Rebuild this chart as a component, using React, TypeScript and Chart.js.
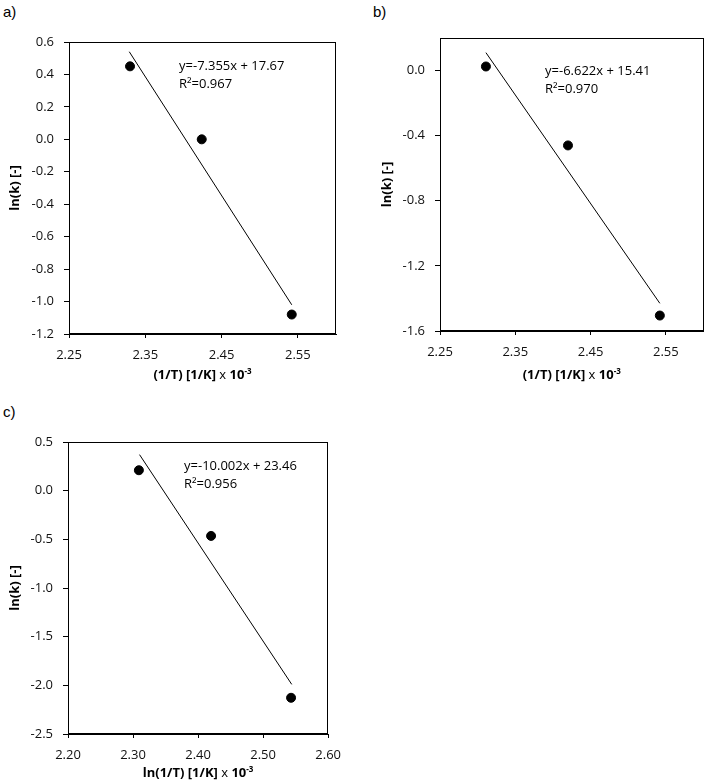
import React, { useEffect, useRef } from "react";
import { Chart, registerables } from "chart.js";
Chart.register(...registerables);

const FONT = "'Open Sans', 'Liberation Sans', sans-serif";

// ---- Panel a ----
const aX = [2.33, 2.424, 2.542];
const aY = [0.45, 0.0, -1.08];
const aTrendX = [2.329, 2.542];
const aTrendY = [0.54, -1.02];
const aXTicks = [2.25, 2.35, 2.45, 2.55];
const aYTicks = [-1.2, -1.0, -0.8, -0.6, -0.4, -0.2, 0.0, 0.2, 0.4, 0.6];
const aEq = ["y=-7.355x + 17.67", "R²=0.967"];

// ---- Panel b ----
const bX = [2.311, 2.42, 2.542];
const bY = [0.025, -0.46, -1.505];
const bTrendX = [2.311, 2.542];
const bTrendY = [0.11, -1.43];
const bXTicks = [2.25, 2.35, 2.45, 2.55];
const bYTicks = [-1.6, -1.2, -0.8, -0.4, 0.0];
const bEq = ["y=-6.622x + 15.41", "R²=0.970"];

// ---- Panel c ----
const cX = [2.309, 2.42, 2.543];
const cY = [0.21, -0.465, -2.128];
const cTrendX = [2.31, 2.544];
const cTrendY = [0.37, -1.99];
const cXTicks = [2.2, 2.3, 2.4, 2.5, 2.6];
const cYTicks = [-2.5, -2.0, -1.5, -1.0, -0.5, 0.0, 0.5];
const cEq = ["y=-10.002x + 23.46", "R²=0.956"];

const yTitle = "ln(k) [-]";
const xTitleAB = "(1/T) [1/K]";
const xTitleC = "ln(1/T) [1/K]";

type PanelProps = {
  left: number; top: number; width: number; height: number;
  pad: { left: number; top: number; right: number; bottom: number };
  yAxisW: number; xAxisH: number;
  xs: number[]; ys: number[]; tx: number[]; ty: number[];
  xMin: number; xMax: number; yMin: number; yMax: number;
  xTicks: number[]; yTicks: number[]; xDec: number; yDec: number;
  eq: string[]; eqDx: number; eqDy: number; eqGap: number;
  xTitle: string; xTitleDy: number;
  label: string; labelLeft: number; labelTop: number;
};

function Panel(p: PanelProps) {
  const ref = useRef<HTMLCanvasElement | null>(null);
  useEffect(() => {
    const canvas = ref.current;
    if (!canvas) return;
    const overlay = {
      id: "overlay",
      afterDraw(chart: any) {
        const { ctx, chartArea } = chart;
        const { left, top, right, bottom } = chartArea;
        ctx.save();
        ctx.strokeStyle = "#000";
        ctx.lineWidth = 1;
        ctx.strokeRect(Math.round(left) + 0.5, Math.round(top) + 0.5, Math.round(right - left) - 1, Math.round(bottom - top) - 1);
        // equation text
        ctx.fillStyle = "#000";
        ctx.font = `13px ${FONT}`;
        ctx.textAlign = "left";
        ctx.textBaseline = "alphabetic";
        p.eq.forEach((t, i) => ctx.fillText(t, left + p.eqDx, top + p.eqDy + i * p.eqGap));
        // x axis title with superscript
        const parts = [
          { t: p.xTitle + " ", f: `bold 13px ${FONT}`, dy: 0 },
          { t: "x ", f: `13px ${FONT}`, dy: 0 },
          { t: "10", f: `bold 13px ${FONT}`, dy: 0 },
          { t: "-3", f: `bold 8px ${FONT}`, dy: -5 },
        ];
        let total = 0;
        parts.forEach((q) => { ctx.font = q.f; total += ctx.measureText(q.t).width; });
        let x = (left + right) / 2 - total / 2;
        const y = bottom + p.xTitleDy;
        parts.forEach((q) => {
          ctx.font = q.f;
          ctx.fillText(q.t, x, y + q.dy);
          x += ctx.measureText(q.t).width;
        });
        ctx.restore();
      },
    };
    const chart = new Chart(canvas, {
      type: "scatter",
      data: {
        datasets: [
          {
            data: p.xs.map((x, i) => ({ x, y: p.ys[i] })),
            backgroundColor: "#000",
            borderColor: "#000",
            pointRadius: 4.5,
            pointHoverRadius: 4.5,
            showLine: false,
          },
          {
            data: p.tx.map((x, i) => ({ x, y: p.ty[i] })),
            borderColor: "#000",
            backgroundColor: "#000",
            borderWidth: 1,
            pointRadius: 0,
            showLine: true,
          },
        ],
      },
      options: {
        responsive: false,
        animation: false,
        events: [],
        layout: { padding: p.pad },
        plugins: { legend: { display: false }, tooltip: { enabled: false } },
        scales: {
          x: {
            type: "linear",
            min: p.xMin,
            max: p.xMax,
            afterBuildTicks: (s: any) => { s.ticks = p.xTicks.map((v) => ({ value: v })); },
            afterFit: (s: any) => { s.height = p.xAxisH; },
            ticks: {
              callback: (v: any) => Number(v).toFixed(p.xDec),
              font: { family: FONT, size: 13 },
              color: "#111",
              padding: 9,
              maxRotation: 0,
              autoSkip: false,
            },
            grid: { display: true, drawOnChartArea: false, drawTicks: true, tickLength: 4, color: "#000", lineWidth: 1 },
            border: { display: true, color: "#000", width: 1 },
          },
          y: {
            type: "linear",
            min: p.yMin,
            max: p.yMax,
            afterBuildTicks: (s: any) => { s.ticks = p.yTicks.map((v) => ({ value: v })); },
            afterFit: (s: any) => { s.width = p.yAxisW; },
            ticks: {
              callback: (v: any) => Number(v).toFixed(p.yDec),
              font: { family: FONT, size: 13 },
              color: "#111",
              padding: 10,
              autoSkip: false,
            },
            grid: { display: true, drawOnChartArea: false, drawTicks: true, tickLength: 5, color: "#000", lineWidth: 1 },
            border: { display: true, color: "#000", width: 1 },
            title: {
              display: true,
              text: yTitle,
              font: { family: FONT, size: 13, weight: "bold" },
              color: "#000",
              padding: { top: 7, bottom: 0 },
            },
          },
        },
      },
      plugins: [overlay],
    } as any);
    return () => chart.destroy();
  }, []);
  return (
    <>
      <div
        style={{
          position: "absolute",
          left: p.labelLeft,
          top: p.labelTop,
          font: "15px 'Liberation Sans', Arial, sans-serif",
          color: "#000",
          lineHeight: "17px",
        }}
      >
        {p.label}
      </div>
      <canvas
        ref={ref}
        width={p.width}
        height={p.height}
        style={{ position: "absolute", left: p.left, top: p.top, width: p.width, height: p.height }}
      />
    </>
  );
}

export default function App() {
  return (
    <div style={{ position: "absolute", left: 0, top: 0, width: 709, height: 784, background: "#fff" }}>
      <Panel
        left={0} top={0} width={350} height={400}
        pad={{ left: 0, top: 42, right: 14, bottom: 0 }} yAxisW={69} xAxisH={66}
        xs={aX} ys={aY} tx={aTrendX} ty={aTrendY}
        xMin={2.25} xMax={2.6} yMin={-1.2} yMax={0.6}
        xTicks={aXTicks} yTicks={aYTicks} xDec={2} yDec={1}
        eq={aEq} eqDx={110} eqDy={28} eqGap={18}
        xTitle={xTitleAB} xTitleDy={45}
        label="a)" labelLeft={3} labelTop={3}
      />
      <Panel
        left={350} top={0} width={359} height={400}
        pad={{ left: 22, top: 38, right: 2, bottom: 0 }} yAxisW={68} xAxisH={69}
        xs={bX} ys={bY} tx={bTrendX} ty={bTrendY}
        xMin={2.25} xMax={2.6} yMin={-1.6} yMax={0.2}
        xTicks={bXTicks} yTicks={bYTicks} xDec={2} yDec={1}
        eq={bEq} eqDx={105} eqDy={37} eqGap={18}
        xTitle={xTitleAB} xTitleDy={48}
        label="b)" labelLeft={373} labelTop={3}
      />
      <Panel
        left={0} top={400} width={350} height={384}
        pad={{ left: 0, top: 42, right: 14, bottom: 0 }} yAxisW={68} xAxisH={50}
        xs={cX} ys={cY} tx={cTrendX} ty={cTrendY}
        xMin={2.2} xMax={2.6} yMin={-2.5} yMax={0.5}
        xTicks={cXTicks} yTicks={cYTicks} xDec={2} yDec={1}
        eq={cEq} eqDx={116} eqDy={28} eqGap={18}
        xTitle={xTitleC} xTitleDy={43}
        label="c)" labelLeft={3} labelTop={403}
      />
    </div>
  );
}
